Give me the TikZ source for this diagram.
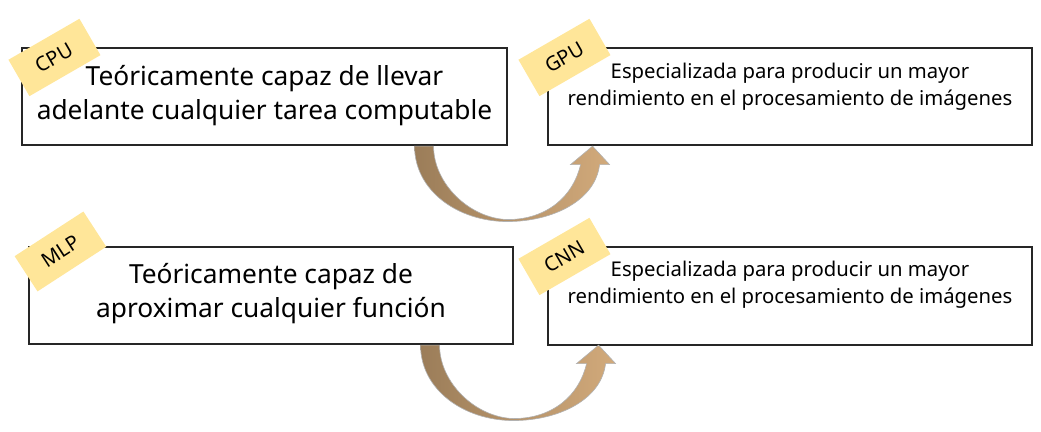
\documentclass[tikz,border=0pt]{standalone}
\usepackage{fontspec}
\setmainfont{Noto Sans}
\usetikzlibrary{calc}
\definecolor{tagyellow}{HTML}{FFE699}
\definecolor{arrowdark}{HTML}{9B7D59}
\definecolor{arrowlight}{HTML}{D2AA7B}
\tikzset{every path/.style={semithick}}
\tikzset{
  box/.style={draw=black!85, line width=1.1pt, fill=white, minimum width=484pt, minimum height=97pt, inner sep=0pt},
  tag/.style={fill=tagyellow, minimum width=82pt, minimum height=42pt, inner sep=0pt, font=\fontsize{20}{20}\selectfont},
  bigtext/.style={align=center, font=\fontsize{26.3}{34}\selectfont},
  smalltext/.style={align=center, font=\fontsize{20.3}{27}\selectfont},
  bentshape/.style={left color=arrowdark, right color=arrowlight, draw=black!30, line width=0.6pt},
}
\newcommand{\bentarrow}[1]{
  \begin{scope}[shift={(#1.south east)}]
    \shadedraw[bentshape] (-93,0.6) .. controls (-93,45) and (-50,76) .. (0,76)
      .. controls (45,76) and (88,55) .. (92,19)
      -- (102,19) -- (85,0.6) -- (63,19) -- (73,19)
      .. controls (66,50) and (40,74) .. (0,74)
      .. controls (-38,73) and (-74,38) .. (-74,0.6) -- cycle;
  \end{scope}
}

\begin{document}
\begin{tikzpicture}[x=1pt, y=-1pt]
    \useasboundingbox (0,0) rectangle (1041,431);

    % CPU / GPU

    \node[box, minimum width=485pt] (cpu) at (264.5,96.5) {};
    \node[bigtext] (cputxt) at ($(cpu.center)+(0,-1)$) {Teóricamente capaz de llevar \\ adelante cualquier tarea computable};
    \node[box] (gpu) at (790,96.5) {};
    \node[smalltext] (gputxt) at ($(gpu.center)+(0,-10)$) {Especializada para producir un mayor \\ rendimiento en el procesamiento de imágenes};
    \bentarrow{cpu}

    \node[tag, rotate=30] (cputag) at ($(cpu.north west)+(33,10)$) {CPU};
    \node[tag, rotate=30] (gputag) at ($(gpu.north west)+(17,10)$) {GPU};

    % MLP / CNN

    \node[box] (mlp) at (271,295.5) {};
    \node[bigtext] (mlptxt) at ($(mlp.center)+(0,-2)$) {Teóricamente capaz de \\ aproximar cualquier función};
    \node[box, minimum height=98pt] (cnn) at (790,296) {};
    \node[smalltext] (cnntxt) at ($(cnn.center)+(0,-11)$) {Especializada para producir un mayor \\ rendimiento en el procesamiento de imágenes};
    \bentarrow{mlp}

    \node[tag, rotate=33] (mlptag) at ($(mlp.north west)+(32,5)$) {MLP};
    \node[tag, rotate=30] (cnntag) at ($(cnn.north west)+(17,10)$) {CNN};
  \end{tikzpicture}
\end{document}
